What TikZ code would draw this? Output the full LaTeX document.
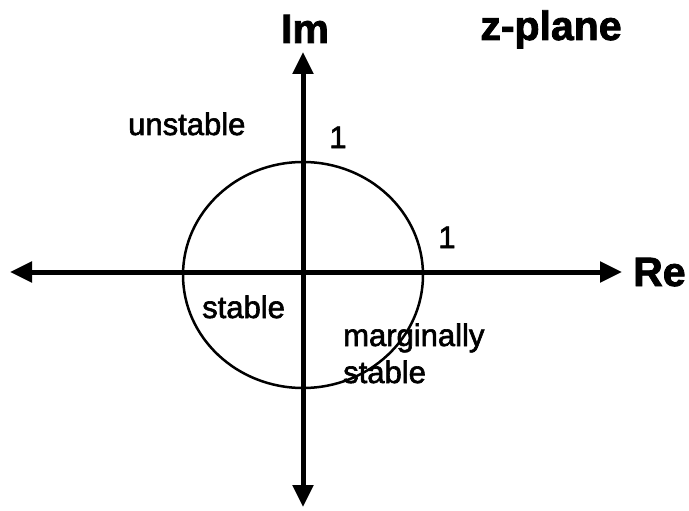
\documentclass[tikz,border=0pt]{standalone}
\usepackage{fontspec}
\setmainfont{Liberation Sans}
\newfontfamily\regionfont[FakeBold=2]{Liberation Sans}
\newfontfamily\titlefont[FakeBold=2]{Liberation Sans Bold}
\usetikzlibrary{arrows.meta}

\begin{document}
\begin{tikzpicture}[
  x=1pt,
  y=-1pt,
  axis/.style={line width=5pt,
    {Triangle[length=22pt,width=20pt]}-{Triangle[length=22pt,width=20pt]}},
  title/.style={font=\fontsize{41}{43}\titlefont,inner sep=0pt},
  region/.style={font=\fontsize{31}{33}\regionfont,inner sep=0pt}
]
  \useasboundingbox (0,0) rectangle (689,511);

  % Axes.
  \coordinate (west) at (10,272);
  \coordinate (east) at (622,272);
  \coordinate (north) at (303,52);
  \coordinate (south) at (303,507);
  \draw[axis] (west) -- (east);
  \draw[axis] (south) -- (north);

  % Unit circle.
  \coordinate (o) at (303,275);
  \draw[line width=2.5pt] (o) ellipse[x radius=120,y radius=113];

  % Labels.
  \node[title,anchor=base] (im) at (305,43) {Im};
  \node[title,anchor=base] (zplane) at (551,40) {z-plane};
  \node[title,anchor=base west] (re) at (633,286) {Re};
  \node[region,anchor=base west] (unstable) at (128,135) {unstable};
  \node[region,anchor=base] (oneim) at (338,148) {1};
  \node[region,anchor=base] (onere) at (447,248) {1};
  \node[region,anchor=base west] (stable) at (202,318) {stable};
  \node[region,anchor=base west] (marginal) at (343,346) {marginally};
  \node[region,anchor=base west] (mstable) at (343,383) {stable};
\end{tikzpicture}
\end{document}
